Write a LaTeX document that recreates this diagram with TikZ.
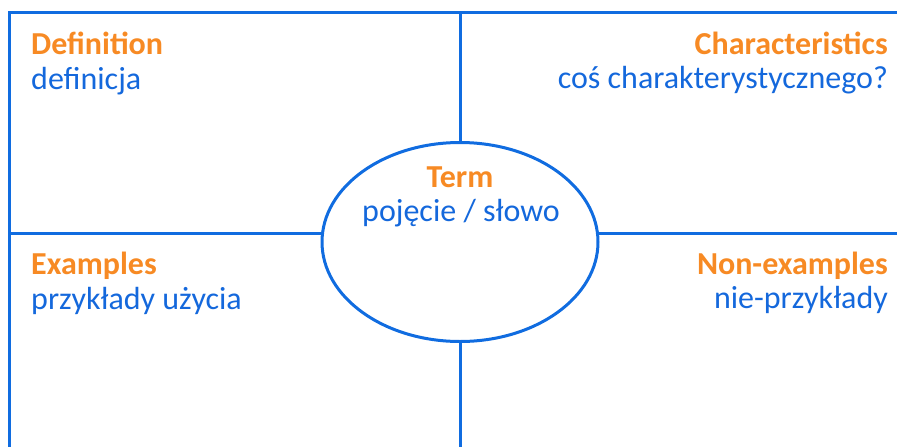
\documentclass[tikz,border=0pt]{standalone}
\usepackage{fontspec}
\setmainfont{Carlito}
\usetikzlibrary{shapes.geometric}
\definecolor{gridblue}{RGB}{16,108,224}
\definecolor{textblue}{RGB}{20,104,220}
\definecolor{headorange}{RGB}{247,138,36}

\begin{document}
\begin{tikzpicture}[x=1pt, y=-1pt,
        gridline/.style={gridblue, line width=3pt},
        heading/.style={headorange, inner sep=0pt, font=\fontsize{32}{36}\selectfont\bfseries},
        gloss/.style={textblue, inner sep=0pt, font=\fontsize{32}{36}\selectfont}]
                \useasboundingbox (0,0) rectangle (897,447);
                % frame and cross
                \coordinate (topleft) at (9,12);
                \coordinate (topright) at (897,12);
                \coordinate (bottomleft) at (9,447);
                \coordinate (midtop) at (460,12);
                \coordinate (midbottom) at (460,447);
                \coordinate (leftmid) at (9,233);
                \coordinate (rightmid) at (897,233);
                \draw[gridline] (bottomleft) -- (topleft) -- (topright);
                \draw[gridline] (midtop) -- (midbottom);
                \draw[gridline] (leftmid) -- (rightmid);
                \node[ellipse, draw=gridblue, line width=3pt, fill=white, inner sep=0pt,
                      minimum width=276pt, minimum height=199pt] (term) at (460,242) {};
                % labels
                \node[heading, anchor=base west] (defhead) at (31,54) {Definition};
                \node[gloss, anchor=base west] (defgloss) at (31,89) {definicja};
                \node[heading, anchor=base east] (charhead) at (888,54) {Characteristics};
                \node[gloss, anchor=base east] (chargloss) at (888,88) {coś charakterystycznego?};
                \node[heading, anchor=base] (termhead) at (460,187) {Term};
                \node[gloss, anchor=base] (termgloss) at (461,221) {pojęcie / słowo};
                \node[heading, anchor=base west] (exhead) at (31,274) {Examples};
                \node[gloss, anchor=base west] (exgloss) at (31,309) {przykłady użycia};
                \node[heading, anchor=base east] (nonhead) at (888,274) {Non-examples};
                \node[gloss, anchor=base east] (nongloss) at (888,308) {nie-przykłady};
\end{tikzpicture}
\end{document}
